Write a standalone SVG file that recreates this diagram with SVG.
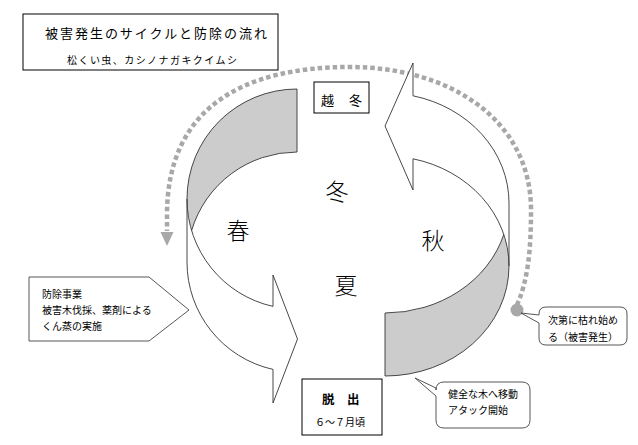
<svg xmlns="http://www.w3.org/2000/svg" width="638" height="445" viewBox="0 0 638 445">
<style>
text{font-family:"Noto Sans CJK JP","Noto Sans CJK SC",sans-serif;fill:#000}
.box{fill:#fff;stroke:#000;stroke-width:1}
.band{fill:#cccccc;stroke:none}
.front{fill:#fff;stroke:none}
.outline{fill:none;stroke:#333;stroke-width:0.9}
.call{fill:#fff;stroke:#444;stroke-width:0.9}
.season{font-size:23px;text-anchor:middle;font-weight:300}
.small{font-size:10px}
.dots{fill:none;stroke:#a8a8a8;stroke-width:4.5;stroke-dasharray:4.5 3}
</style>
<rect width="638" height="445" fill="#fff"/>

<g id="title">
<rect class="box" x="23" y="14" width="255" height="56"/>
<text x="45" y="38" font-size="13" textLength="222" lengthAdjust="spacing">被害発生のサイクルと防除の流れ</text>
<text x="67" y="64" font-size="10" textLength="170" lengthAdjust="spacing">松くい虫、カシノナガキクイムシ</text>
</g>

<g id="connectors">
<path class="dots" d="M517,305 C528,280 531,250 531,210 C531,120 450,67 350,67 C240,67 167,110 167,215 L167,231"/>
<polygon points="160.5,232 173.5,232 167,246" fill="#a8a8a8"/>
<circle cx="517" cy="310" r="6.5" fill="#a8a8a8"/>
</g>

<g id="spring-arrow">
<path class="band" d="M187,199 A110,110 0 0 1 297,89 L297,152 A110,110 0 0 0 191.6,230.5 A110,110 0 0 1 187,199 Z"/>
<path class="front" d="M187,199 A110,110 0 0 0 273,306.4 L273,275 L297.5,339 L273,403 L273,369.4 A110,110 0 0 1 187,262 Z"/>
<path class="outline" d="M187,199 A110,110 0 0 0 273,306.4 L273,275 L297.5,339 L273,403 L273,369.4 A110,110 0 0 1 187,262 L187,199 A110,110 0 0 1 297,89 L297,152 A110,110 0 0 0 191.6,230.5"/>
</g>

<g id="autumn-arrow">
<path class="band" d="M509,266 A124,110 0 0 1 385,376 L385,313 A124,110 0 0 0 503.8,234.5 A124,110 0 0 1 509,266 Z"/>
<path class="front" d="M509,266 A124,110 0 0 0 413,158.8 L413,190 L385,126 L413,63 L413,95.8 A124,110 0 0 1 509,203 Z"/>
<path class="outline" d="M509,266 A124,110 0 0 0 413,158.8 L413,190 L385,126 L413,63 L413,95.8 A124,110 0 0 1 509,203 L509,266 A124,110 0 0 1 385,376 L385,313 A124,110 0 0 0 503.8,234.5"/>
</g>

<g id="overwinter">
<rect class="box" x="314" y="82" width="55" height="31"/>
<text x="321" y="105" font-size="13" letter-spacing="1">越　冬</text>
</g>

<g id="seasons">
<text class="season" x="337" y="200">冬</text>
<text class="season" x="238" y="239">春</text>
<text class="season" x="433" y="249">秋</text>
<text class="season" x="346" y="294">夏</text>
</g>

<g id="control">
<polygon class="call" points="29,277 149,277 189,310 149,341 29,341"/>
<text class="small" x="42" y="298" font-size="9.6">防除事業</text>
<text class="small" x="42" y="314" font-size="9.6">被害木伐採、薬剤による</text>
<text class="small" x="42" y="330" font-size="9.6">くん蒸の実施</text>
</g>

<g id="emergence">
<rect class="box" x="302" y="379" width="80" height="56"/>
<text x="322" y="404" font-size="12.5" font-weight="bold">脱　出</text>
<text x="315" y="426" font-size="10">６～７月頃</text>
</g>

<g id="withering">
<path class="call" d="M546,307 H620 Q627,307 627,314 V338 Q627,345 620,345 H546 Q539,345 539,338 V323 L521,313 L539,315 V314 Q539,307 546,307 Z"/>
<text class="small" x="548" y="324">次第に枯れ始め</text>
<text class="small" x="548" y="341">る（被害発生）</text>
</g>

<g id="attack">
<path class="call" d="M444,382 H522 Q530,382 530,390 V420 Q530,428 522,428 H444 Q436,428 436,420 V396 L415,378 L436,388 V390 Q436,382 444,382 Z"/>
<text class="small" x="448" y="398">健全な木へ移動</text>
<text class="small" x="448" y="414">アタック開始</text>
</g>
</svg>
